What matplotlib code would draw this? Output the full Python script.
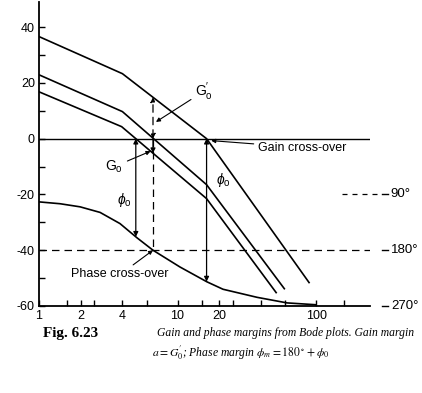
import numpy as np
import matplotlib.pyplot as plt
import matplotlib.transforms as mtransforms
from matplotlib.ticker import FixedLocator, NullLocator

plt.rcParams['font.family'] = ['Liberation Sans', 'DejaVu Sans']
plt.rcParams['axes.unicode_minus'] = False
plt.rcParams['mathtext.fontset'] = 'custom'
plt.rcParams['mathtext.rm'] = 'Liberation Sans'
plt.rcParams['mathtext.it'] = 'Liberation Sans:italic'

# gain curves (dB)
freq_top = [1, 4.0, 16.2, 89]
gain_top = [36.6, 23.3, 0.0, -51.6]
freq_mid = [1, 4.0, 16.2, 59]
gain_mid = [22.9, 9.7, -16.5, -53.8]
freq_low = [1, 3.95, 16.2, 51.5]
gain_low = [16.8, 4.3, -21.5, -55.2]

# phase curve (degrees)
freq_phase = [1, 1.42, 1.98, 2.76, 3.84, 5.1, 6.65, 10.4, 16.3, 21.3, 37.5, 61.7, 100]
phase_deg = [-102, -105, -110, -119, -137, -160, -180, -207, -231, -243, -256, -265, -268]

# phase is drawn on the dB grid: -90 deg <-> -20 dB
DEG_PER_DB = 4.5
phase_marks = [-90, -180, -270]

xtick_vals = [1, 1.6, 2, 2.5, 4, 6, 10, 15, 20, 25, 40, 60, 100, 160]
xtick_text = {1: '1', 2: '2', 4: '4', 10: '10', 20: '20', 100: '100'}
ytick_major = [-60, -40, -20, 0, 20, 40]
ytick_minor = [-50, -30, -10, 10, 30]


def value_at(f, freqs, vals):
    return np.interp(np.log10(f), np.log10(freqs), vals)


def freq_where(level, freqs, vals):
    # curves fall with frequency, so flip for np.interp
    return 10 ** np.interp(level, vals[::-1], np.log10(freqs)[::-1])


phase_db = np.array(phase_deg) / DEG_PER_DB
f_pc = freq_where(-180, freq_phase, phase_deg)          # phase cross-over
f_gc_top = freq_where(0, freq_top, gain_top)            # gain cross-over
f_gc_low = freq_where(0, freq_low, gain_low)

fig = plt.figure(figsize=(4.22, 3.93), dpi=100)
ax = fig.add_axes([39 / 422, 1 - 306 / 393, 331 / 422, 304 / 393])
ax.set_xscale('log')
ax.set_xlim(1, 245)
ax.set_ylim(-60, 49)

lk = dict(color='black', lw=1.2)
ax.plot(freq_top, gain_top, **lk)
ax.plot(freq_mid, gain_mid, **lk)
ax.plot(freq_low, gain_low, **lk)
ax.plot(freq_phase, phase_db, **lk)
ax.plot([freq_phase[-1]] * 2, [phase_db[-1], -60], **lk)

ax.axhline(0, color='black', lw=1.0)
ax.axhline(-180 / DEG_PER_DB, color='black', lw=0.9, ls=(0, (6, 4)))

# phase cross-over dashed vertical
g_top_pc = value_at(f_pc, freq_top, gain_top)
g_low_pc = value_at(f_pc, freq_low, gain_low)
ax.plot([f_pc, f_pc], [0, -40], color='black', lw=0.9, ls=(0, (6, 4)))

head = dict(color='black', lw=0.9, shrinkA=0, shrinkB=0, mutation_scale=7)
ax.annotate('', xy=(f_pc, g_top_pc), xytext=(f_pc, 0),
            arrowprops=dict(arrowstyle='<|-|>', ls=(0, (6, 4)), **head))
ax.annotate('', xy=(f_pc, g_low_pc), xytext=(f_pc, 0),
            arrowprops=dict(arrowstyle='-|>', **head))

# phase margins
for f in (f_gc_low, f_gc_top):
    p = value_at(f, freq_phase, phase_db)
    ax.annotate('', xy=(f, p), xytext=(f, 0),
                arrowprops=dict(arrowstyle='<|-|>', **head))

fs = 9
ax.text(4.1, -21.9, r'$\phi_{\rm o}$', fontsize=fs + 1, ha='center', va='center')
ax.text(21.5, -14.7, r'$\phi_{\rm o}$', fontsize=fs + 1, ha='center', va='center')

thin = dict(arrowstyle='-|>', color='black', lw=0.8, mutation_scale=6,
            shrinkA=1, shrinkB=0)
ax.annotate(r"G$_{\rm o}^{\prime}$", xy=(f_pc * 1.05, 6), xytext=(15.5, 17),
            fontsize=fs + 1, ha='center', va='center', arrowprops=thin)
ax.annotate(r"G$_{\rm o}$", xy=(f_pc * 0.96, -4.5), xytext=(3.5, -10),
            fontsize=fs + 1, ha='center', va='center', arrowprops=thin)
ax.annotate('Gain cross-over', xy=(f_gc_top * 1.08, -0.7), xytext=(38, -3.2),
            fontsize=fs, ha='left', va='center', arrowprops=thin)
ax.annotate('Phase cross-over', xy=(f_pc, -40), xytext=(3.85, -48.7),
            fontsize=fs, ha='center', va='center', arrowprops=thin)

# phase scale on the right
trans = mtransforms.blended_transform_factory(ax.transAxes, ax.transData)
ax.plot([0.915, 1.03], [-20, -20], transform=trans, clip_on=False,
        color='black', lw=0.9, ls=(0, (4, 4)))
for deg in phase_marks:
    y = deg / DEG_PER_DB
    ax.plot([1.036, 1.054], [y, y], transform=trans, clip_on=False,
            color='black', lw=1.0)
    ax.text(1.063, y, f'{abs(deg)}\u00b0', transform=trans, fontsize=fs + 0.5,
            ha='left', va='center')

ax.xaxis.set_major_locator(FixedLocator(xtick_vals))
ax.xaxis.set_minor_locator(NullLocator())
ax.set_xticklabels([xtick_text.get(v, '') for v in xtick_vals])
ax.set_yticks(ytick_major)
ax.set_yticks(ytick_minor, minor=True)
ax.tick_params(direction='in', length=4, width=1, labelsize=fs, pad=3)
ax.tick_params(which='minor', direction='in', length=4, width=1)

for s in ('top', 'right'):
    ax.spines[s].set_visible(False)
for s in ('left', 'bottom'):
    ax.spines[s].set_linewidth(1.3)

fig.text(43 / 422, 1 - 333 / 393, 'Fig. 6.23', fontsize=11, fontweight='bold',
         family='Liberation Serif', va='center')
fig.text(157 / 422, 1 - 333 / 393,
         'Gain and phase margins from Bode plots. Gain margin',
         fontsize=8.4, style='italic', family='Liberation Serif', va='center')
fig.text(241 / 422, 1 - 353 / 393,
         r"$a = G_0^{\prime}$; Phase margin $\phi_m = 180^\circ + \phi_0$",
         fontsize=8.4, style='italic', family='Liberation Serif', va='center',
         ha='center', math_fontfamily='stix')

fig.savefig('out.png', dpi=100)
